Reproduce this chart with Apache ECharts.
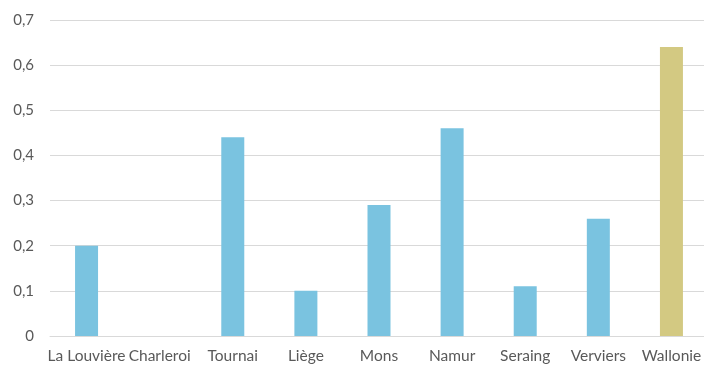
<!DOCTYPE html>
<html>
<head>
<meta charset="utf-8">
<script src="https://cdn.jsdelivr.net/npm/echarts@6/dist/echarts.min.js"></script>
<style>
    html, body { margin: 0; padding: 0; background: #fff; overflow: hidden; }
    #main { width: 708px; height: 365px; }
</style>
</head>
<body>
<div id="main"></div>
<script>
let categories = ['La Louvière', 'Charleroi', 'Tournai', 'Liège', 'Mons', 'Namur', 'Seraing', 'Verviers', 'Wallonie'];
let values = [0.2, null, 0.44, 0.1, 0.29, 0.46, 0.11, 0.26, 0.64];
let highlight = 'Wallonie';   // barre de la moyenne régionale

(function() {
    var chart = echarts.init(document.getElementById('main'));
    var data = values.map(function(v, i) {
        return {
            value: v,
            itemStyle: {color: categories[i] === highlight ? '#d3c982' : '#7ac3e0'}
        };
    });
    chart.setOption({
        animation: false,
        grid: {left: 50, right: 0, top: 20, bottom: 29, containLabel: false, outerBoundsMode: 'none'},
        xAxis: {
            type: 'category',
            data: categories,
            axisTick: {show: false},
            axisLine: {lineStyle: {color: '#d9d9d9', width: 1}},
            axisLabel: {
                color: '#595959',
                fontFamily: 'Lato',
                fontSize: 15.5,
                margin: 12,
                interval: 0
            }
        },
        yAxis: {
            type: 'value',
            min: 0,
            max: 0.7,
            interval: 0.1,
            axisLine: {show: false},
            axisTick: {show: false},
            splitLine: {lineStyle: {color: '#d9d9d9', width: 1}},
            axisLabel: {
                color: '#595959',
                fontFamily: 'Lato',
                fontSize: 15,
                margin: 16,
                formatter: function(v) {
                    return v === 0 ? '0' : v.toFixed(1).replace('.', ',');
                }
            }
        },
        series: [{
            type: 'bar',
            data: data,
            barWidth: 23
        }]
    });
})();
</script>
</body>
</html>
